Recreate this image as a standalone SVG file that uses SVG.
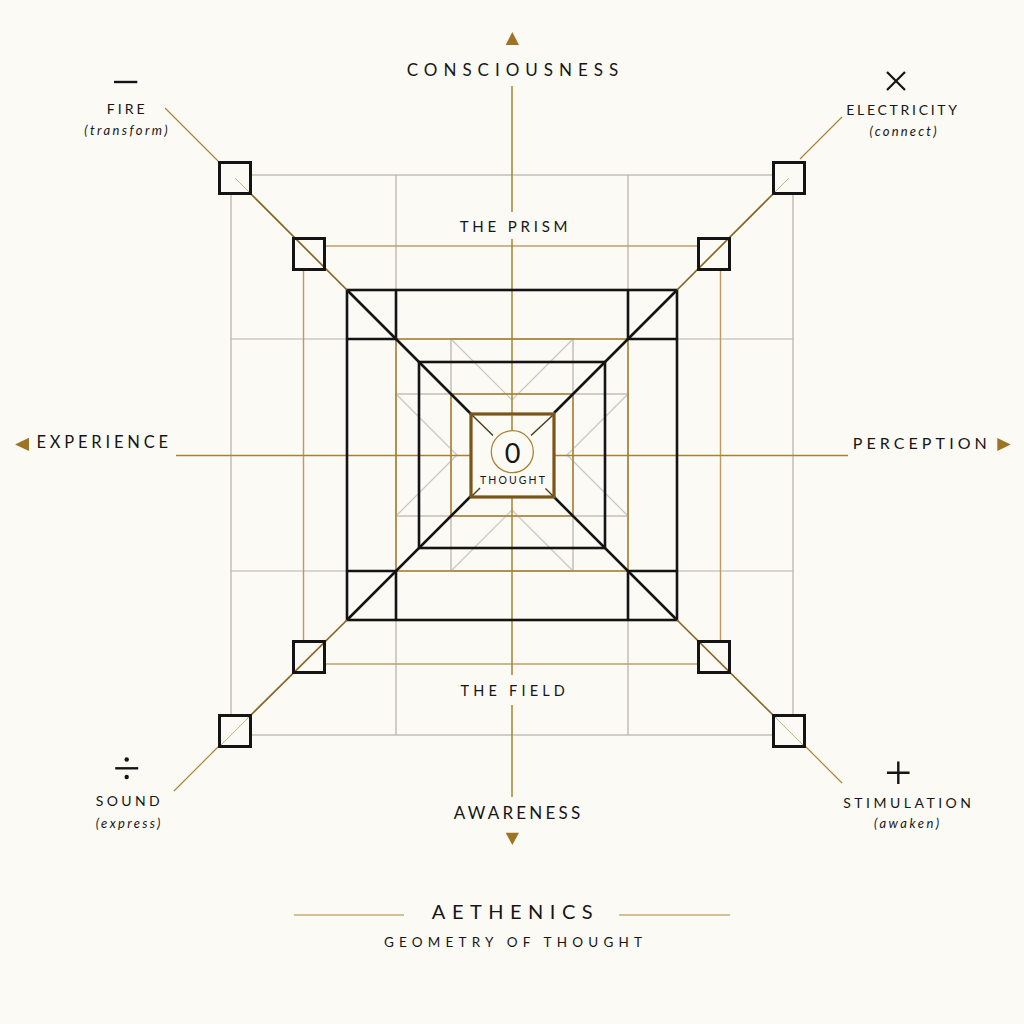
<svg xmlns="http://www.w3.org/2000/svg" width="1024" height="1024" viewBox="0 0 1024 1024">
<defs>
<style>
.bg{fill:#fbfaf5}
.gray{fill:none;stroke:#b5b1a9;stroke-width:1.2}
.gold{fill:none;stroke:#a98130;stroke-width:1.5}
.goldl{fill:none;stroke:#bb9b5e;stroke-width:1.4}
.blk{fill:none;stroke:#141414;stroke-width:2.6}
.sq{fill:#fbfaf5;stroke:none}
.sqs{fill:none;stroke:#141414;stroke-width:3}
.diag-out{stroke:#a98130;stroke-width:1.1}
.diag-in{stroke:#8a6420;stroke-width:1.7}
.diag-faint{stroke:#c9b48a;stroke-width:1}
.arrow{fill:#9c7424}
.sym{stroke:#141414;stroke-width:2.4;fill:none}
text{font-family:Lato,"Noto Sans","Liberation Sans",sans-serif;fill:#161616}
.lbl{font-size:14px;letter-spacing:3.3px;text-anchor:middle}
.sub{font-size:13px;font-style:italic;letter-spacing:2.4px;text-anchor:middle}
.axis{font-size:17px;letter-spacing:6px;text-anchor:middle}
.inner{font-size:14.5px;letter-spacing:4.2px;text-anchor:middle}
</style>
</defs>
<rect class="bg" x="0" y="0" width="1024" height="1024"/>

<g id="frame">
  <rect class="gray" x="231" y="175" width="562" height="560"/>
  <line class="gray" x1="396" y1="175" x2="396" y2="735"/>
  <line class="gray" x1="628" y1="175" x2="628" y2="735"/>
  <line class="gray" x1="231" y1="339" x2="793" y2="339"/>
  <line class="gray" x1="231" y1="571" x2="793" y2="571"/>
  <rect class="gray" x="451" y="339" width="122" height="232"/>
  <rect class="gray" x="396" y="394" width="232" height="122"/>
  <path class="gray" d="M451 339L512 400L573 339M451 571L512 510L573 571M396 394L457 455L396 516M628 394L567 455L628 516" style="stroke:#c8c5be"/>
  <rect class="goldl" x="303.5" y="246" width="417" height="418"/>
  <rect class="gold" x="396" y="339" width="232" height="232"/>
  <rect class="gold" x="451" y="394" width="122" height="122"/>
</g>

<g id="connectors">
  <line class="gold" x1="512" y1="86" x2="512" y2="212"/>
  <line class="gold" x1="512" y1="239" x2="512" y2="413"/>
  <line class="gold" x1="512" y1="497" x2="512" y2="675"/>
  <line class="gold" x1="512" y1="705" x2="512" y2="797"/>
  <line class="gold" x1="176" y1="455.5" x2="471" y2="455.5"/>
  <line class="gold" x1="554" y1="455.5" x2="848" y2="455.5"/>
  <polygon class="arrow" points="512.3,32 505.7,45 519,45"/>
  <polygon class="arrow" points="505.7,832.7 519,832.7 512.3,845"/>
  <polygon class="arrow" points="15,444.5 29,437.7 29,451"/>
  <polygon class="arrow" points="1010.7,444.5 997.3,438 997.3,451"/>
</g>

<g id="prism">
  <rect class="blk" x="347" y="290" width="330" height="330"/>
  <path class="blk" d="M347 339H396V290M677 339H628V290M347 571H396V620M677 571H628V620"/>
  <rect class="blk" x="419" y="362" width="186" height="186"/>
  <path class="blk" d="M347 290L471 414M677 290L554 413M347 620L471 496M677 620L554 497"/>
</g>

<g id="corner-squares-fill">
  <rect class="sq" x="218" y="161" width="34" height="34"/>
  <rect class="sq" x="772" y="161" width="34" height="34"/>
  <rect class="sq" x="218" y="714" width="34" height="34"/>
  <rect class="sq" x="772" y="714" width="34" height="34"/>
  <rect class="sq" x="292" y="237" width="34" height="34"/>
  <rect class="sq" x="697" y="237" width="34" height="34"/>
  <rect class="sq" x="292" y="640" width="34" height="34"/>
  <rect class="sq" x="697" y="640" width="34" height="34"/>
</g>

<g id="diagonals">
  <line class="diag-out" x1="165" y1="108" x2="219" y2="162"/>
  <line class="diag-out" x1="842" y1="117" x2="800" y2="159"/>
  <line class="diag-out" x1="174" y1="791" x2="219" y2="746"/>
  <line class="diag-out" x1="842" y1="783" x2="805" y2="746"/>
  <line class="diag-faint" x1="235" y1="178" x2="251" y2="194"/>
  <line class="diag-faint" x1="789" y1="178" x2="773" y2="194"/>
  <line class="diag-faint" x1="219" y1="747" x2="251" y2="715"/>
  <line class="diag-faint" x1="805" y1="747" x2="773" y2="715"/>
  <line class="diag-in" x1="251" y1="194" x2="347" y2="290"/>
  <line class="diag-in" x1="773" y1="194" x2="677" y2="290"/>
  <line class="diag-in" x1="251" y1="715" x2="347" y2="620"/>
  <line class="diag-in" x1="773" y1="715" x2="677" y2="620"/>
</g>

<g id="corner-squares">
  <rect class="sqs" x="219.5" y="162.5" width="31" height="31"/>
  <rect class="sqs" x="773.5" y="162.5" width="31" height="31"/>
  <rect class="sqs" x="219.5" y="715.5" width="31" height="31"/>
  <rect class="sqs" x="773.5" y="715.5" width="31" height="31"/>
  <rect class="sqs" x="293.5" y="238.5" width="31" height="31"/>
  <rect class="sqs" x="698.5" y="238.5" width="31" height="31"/>
  <rect class="sqs" x="293.5" y="641.5" width="31" height="31"/>
  <rect class="sqs" x="698.5" y="641.5" width="31" height="31"/>
</g>

<g id="node-thought">
  <rect x="471" y="414" width="83" height="83" fill="#fbfaf5" stroke="#7a5518" stroke-width="3.2"/>
  <line class="gold" x1="512" y1="415" x2="512" y2="430.5"/>
  <path d="M472.5 415.5L493 435.5M552.5 415.5L531 435.5M480 488L472.5 495.5M545.5 488.5L552.5 495.5" stroke="#4a3818" stroke-width="1.4" fill="none"/>
  <circle cx="512.3" cy="451.7" r="21" fill="none" stroke="#a98130" stroke-width="1.3"/>
  <text x="512.5" y="462.7" font-size="27" text-anchor="middle">0</text>
  <text x="513.5" y="484" font-size="10.5" letter-spacing="2.1" text-anchor="middle">THOUGHT</text>
</g>

<g id="node-consciousness"><text class="axis" x="515.5" y="76">CONSCIOUSNESS</text></g>
<g id="node-prism"><text class="inner" x="515.5" y="231.7" style="font-size:15px;letter-spacing:3.8px">THE PRISM</text></g>
<g id="node-field"><text class="inner" x="514.8" y="696">THE FIELD</text></g>
<g id="node-awareness"><text class="axis" x="518.5" y="819" style="letter-spacing:3.2px">AWARENESS</text></g>
<g id="node-experience"><text x="36.5" y="448.3" font-size="16.5" letter-spacing="3.8">EXPERIENCE</text></g>
<g id="node-perception"><text x="852.7" y="449.3" font-size="16" letter-spacing="4.1">PERCEPTION</text></g>

<g id="node-fire">
  <line class="sym" x1="114" y1="82" x2="137.3" y2="82"/>
  <text class="lbl" x="127.2" y="114.3" style="letter-spacing:3px">FIRE</text>
  <text class="sub" x="127.2" y="134.5">(transform)</text>
</g>
<g id="node-electricity">
  <path class="sym" d="M887 72L905 90M905 72L887 90" style="stroke-width:2.2"/>
  <text class="lbl" x="903" y="115" style="letter-spacing:2.7px">ELECTRICITY</text>
  <text class="sub" x="904.1" y="135.5" style="letter-spacing:2.2px">(connect)</text>
</g>
<g id="node-sound">
  <line class="sym" x1="115.2" y1="768.3" x2="138.2" y2="768.3"/>
  <circle cx="126.7" cy="759.5" r="2.2" fill="#141414"/>
  <circle cx="126.7" cy="777" r="2.2" fill="#141414"/>
  <text class="lbl" x="129.4" y="806" style="letter-spacing:3.4px">SOUND</text>
  <text class="sub" x="129.2" y="827.5" style="letter-spacing:2.3px">(express)</text>
</g>
<g id="node-stimulation">
  <path class="sym" d="M887 772.7H909.6M898.3 761.4V784"/>
  <text class="lbl" x="908.8" y="807.7" style="letter-spacing:3.5px">STIMULATION</text>
  <text class="sub" x="907.8" y="828" style="letter-spacing:2.5px">(awaken)</text>
</g>

<g id="title">
  <line x1="294" y1="915" x2="404" y2="915" stroke="#c9ad72" stroke-width="1.6"/>
  <line x1="619" y1="915" x2="730" y2="915" stroke="#c9ad72" stroke-width="1.6"/>
  <text x="515.5" y="919" font-size="20" letter-spacing="6.5" text-anchor="middle">AETHENICS</text>
  <text x="515.6" y="947" font-size="13.5" letter-spacing="5.2" text-anchor="middle">GEOMETRY OF THOUGHT</text>
</g>
</svg>
